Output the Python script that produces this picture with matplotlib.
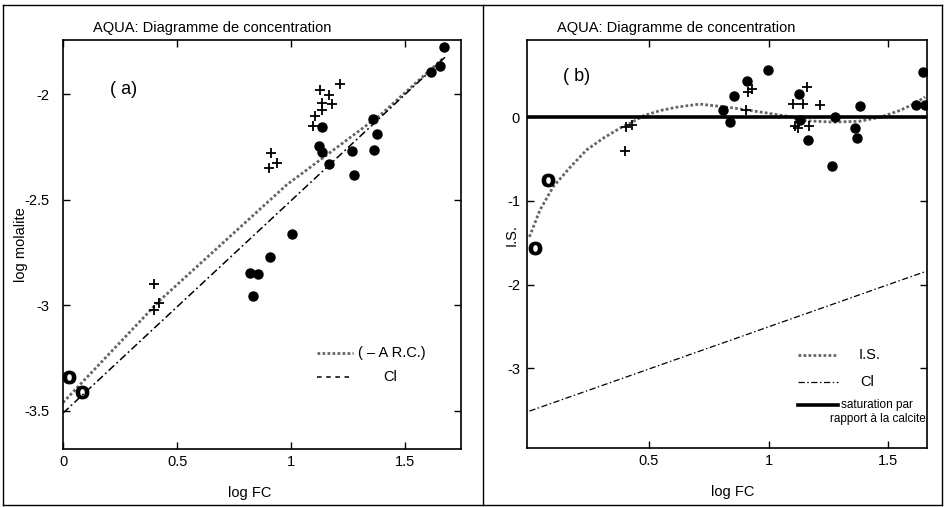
import matplotlib
matplotlib.use("Agg")
import matplotlib.pyplot as plt
from matplotlib.lines import Line2D

plt.rcParams['font.family'] = ['Liberation Sans', 'DejaVu Sans']

# ---- panel (a): log molalite vs log FC ----
a_dot_x = [0.82, 0.855, 0.835, 0.908, 1.005, 1.134, 1.123, 1.137, 1.167,
           1.266, 1.276, 1.36, 1.377, 1.365, 1.613, 1.653, 1.672]
a_dot_y = [-2.847, -2.853, -2.956, -2.771, -2.66, -2.155, -2.246, -2.273, -2.333,
           -2.27, -2.384, -2.12, -2.19, -2.265, -1.897, -1.867, -1.776]
a_plus_x = [0.40, 0.40, 0.42, 0.91, 0.904, 0.937, 1.097, 1.105, 1.134, 1.134,
            1.178, 1.167, 1.127, 1.215]
a_plus_y = [-2.90, -3.02, -2.99, -2.281, -2.352, -2.328, -2.152, -2.104, -2.076,
            -2.04, -2.047, -2.005, -1.98, -1.953]
a_o_x = [0.027, 0.082]
a_o_y = [-3.34, -3.41]
# courbe (- A R.C.)
arc_x = [0.0, 0.425, 0.98, 1.39, 1.667]
arc_y = [-3.46, -2.976, -2.43, -2.10, -1.83]
# Cl (same in both panels)
cl_x = [0.0, 1.68]
cl_y = [-3.51, -1.82]

# ---- panel (b): indice de saturation ----
b_dot_x = [0.811, 0.839, 0.857, 0.909, 0.997, 1.129, 1.132, 1.164, 1.277, 1.267,
           1.381, 1.363, 1.369, 1.617, 1.655, 1.648]
b_dot_y = [0.09, -0.06, 0.25, 0.43, 0.56, 0.27, -0.03, -0.27, 0.0, -0.58,
           0.13, -0.13, -0.25, 0.14, 0.15, 0.54]
b_plus_x = [0.404, 0.428, 0.40, 0.904, 0.916, 0.93, 1.16, 1.104, 1.146, 1.215,
            1.111, 1.125, 1.171]
b_plus_y = [-0.115, -0.095, -0.41, 0.08, 0.30, 0.33, 0.36, 0.155, 0.155, 0.15,
            -0.11, -0.135, -0.11]
b_o_x = [0.078, 0.023]
b_o_y = [-0.75, -1.56]
is_x = [0.0, 0.044, 0.10, 0.17, 0.24, 0.31, 0.38, 0.43, 0.48, 0.55, 0.62, 0.713,
        0.85, 0.99, 1.10, 1.13, 1.27, 1.38, 1.47, 1.55, 1.61, 1.655]
is_y = [-1.43, -1.11, -0.83, -0.60, -0.39, -0.25, -0.13, -0.06, 0.02, 0.08, 0.12,
        0.155, 0.11, 0.05, 0.0, -0.04, -0.06, -0.05, 0.0, 0.08, 0.16, 0.24]
sat_x = [-0.01, 1.663]
sat_y = [0.0, 0.0]

title = "AQUA: Diagramme de concentration"

fig = plt.figure(figsize=(9.45, 5.07), dpi=100)

# panel frames (scanned page look)
for xs, ys in [([3/945, 3/945], [2/507, 502/507]),
               ([483/945, 483/945], [2/507, 502/507]),
               ([942/945, 942/945], [2/507, 502/507]),
               ([3/945, 942/945], [502/507, 502/507]),
               ([3/945, 942/945], [2/507, 2/507])]:
    fig.add_artist(Line2D(xs, ys, color='black', lw=1.0))

ax1 = fig.add_axes([0.0667, 0.1144, 0.4212, 0.8067])
ax2 = fig.add_axes([0.5577, 0.1164, 0.4233, 0.8047])

lab_fs = 10.5
dotted = (0, (1, 0.8))
dashdot = (0, (5, 2, 1.2, 2))
o_marker = r'$\mathbf{O}$'

# ---- (a) ----
ax1.plot(arc_x, arc_y, color='0.4', lw=2.0, ls=dotted)
ax1.plot(cl_x, cl_y, color='black', lw=1.1, ls=dashdot)
ax1.plot(a_dot_x, a_dot_y, 'o', color='black', ms=6.5)
ax1.plot(a_plus_x, a_plus_y, '+', color='black', ms=7, mew=1.3)
ax1.plot(a_o_x, a_o_y, ls='none', marker=o_marker, color='black', ms=9)
ax1.set_xlim(0, 1.745)
ax1.set_ylim(-3.68, -1.744)
ax1.set_xticks([0, 0.5, 1, 1.5])
ax1.set_xticklabels(['0', '0.5', '1', '1.5'])
ax1.set_yticks([-2, -2.5, -3, -3.5])
ax1.set_yticklabels(['-2', '-2.5', '-3', '-3.5'])
ax1.tick_params(axis='y', pad=10)
ax1.set_xlabel('log FC', fontsize=lab_fs)
ax1.set_ylabel('log molalite', fontsize=lab_fs)
ax1.xaxis.set_label_coords(0.47, -0.09)
ax1.yaxis.set_label_coords(-0.088, 0.5)
ax1.text(0.206, -1.98, '( a)', fontsize=13, va='center')

# legend (a)
ax1.plot([0.638, 0.729], [0.235, 0.235], transform=ax1.transAxes,
         color='0.4', lw=2.0, ls=dotted)
ax1.text(0.741, 0.235, '( \u2013 A R.C.)', transform=ax1.transAxes,
         fontsize=lab_fs, va='center')
ax1.plot([0.638, 0.729], [0.176, 0.176], transform=ax1.transAxes,
         color='black', lw=1.1, ls=(0, (3, 3)))
ax1.text(0.804, 0.176, 'Cl', transform=ax1.transAxes, fontsize=lab_fs, va='center')

# ---- (b) ----
ax2.plot(is_x, is_y, color='0.4', lw=2.0, ls=dotted)
ax2.plot(cl_x, cl_y, color='black', lw=0.9, ls=dashdot)
ax2.plot(sat_x, sat_y, color='black', lw=2.6)
ax2.plot(b_dot_x, b_dot_y, 'o', color='black', ms=6.5)
ax2.plot(b_plus_x, b_plus_y, '+', color='black', ms=7, mew=1.3)
ax2.plot(b_o_x, b_o_y, ls='none', marker=o_marker, color='black', ms=9)
ax2.set_xlim(-0.01, 1.663)
ax2.set_ylim(-3.95, 0.92)
ax2.set_xticks([0.5, 1, 1.5])
ax2.set_xticklabels(['0.5', '1', '1.5'])
ax2.set_yticks([0, -1, -2, -3])
ax2.set_yticklabels(['0', '-1', '-2', '-3'])
ax2.tick_params(axis='y', pad=5)
ax2.set_xlabel('log FC', fontsize=lab_fs)
ax2.set_ylabel('I.S.', fontsize=lab_fs)
ax2.xaxis.set_label_coords(0.515, -0.09)
ax2.yaxis.set_label_coords(-0.02, 0.522)
ax2.text(0.14, 0.48, '( b)', fontsize=13, va='center')

# legend (b)
ax2.plot([0.678, 0.778], [0.228, 0.228], transform=ax2.transAxes,
         color='0.4', lw=2.0, ls=dotted)
ax2.text(0.828, 0.228, 'I.S.', transform=ax2.transAxes, fontsize=lab_fs, va='center')
ax2.plot([0.678, 0.778], [0.162, 0.162], transform=ax2.transAxes,
         color='black', lw=0.9, ls=dashdot)
ax2.text(0.833, 0.162, 'Cl', transform=ax2.transAxes, fontsize=lab_fs, va='center')
ax2.plot([0.678, 0.778], [0.105, 0.105], transform=ax2.transAxes,
         color='black', lw=2.6)
ax2.text(0.785, 0.105, 'saturation par', transform=ax2.transAxes,
         fontsize=8.5, va='center')
ax2.text(0.758, 0.071, 'rapport \u00e0 la calcite', transform=ax2.transAxes,
         fontsize=8.5, va='center')

for ax in (ax1, ax2):
    ax.tick_params(direction='in', length=5, width=1.0, top=True, right=True,
                   labelsize=lab_fs)
    ax.tick_params(axis='x', pad=4)
    for s in ax.spines.values():
        s.set_linewidth(1.2)

fig.text(93/945, 1 - 28/507, title, fontsize=10.5, va='center', ha='left')
fig.text(557/945, 1 - 28/507, title, fontsize=10.5, va='center', ha='left')

fig.savefig('out.png', dpi=100)
